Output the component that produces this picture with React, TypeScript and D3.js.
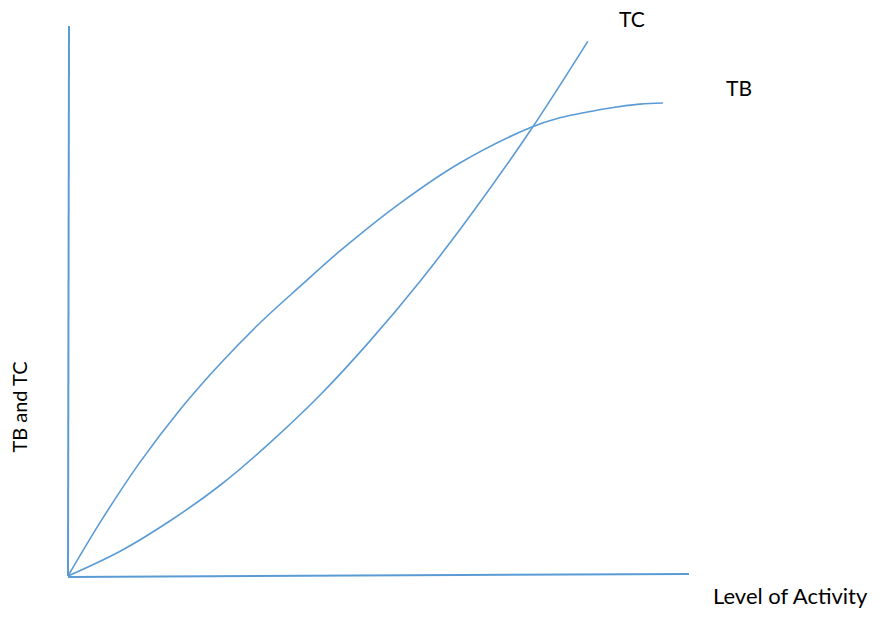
import * as d3 from 'd3';

const W = 885;
const H = 621;
const ORIGIN = { x: 68, y: 576 };
const X_END = 689;
const Y_END = 26;
const BLUE = '#5b9bd5';

// level of activity (0-100) vs value (0-100)
const tbActivity = [0, 5.2, 11.6, 18, 24.5, 30.9, 37.4, 43.8, 53.5, 63.1, 74.4, 79.2, 87.3, 92.1, 95.8];
const tbValue = [0, 9.8, 20.7, 30.2, 38.6, 46.0, 52.7, 59.1, 67.8, 75.1, 81.5, 83.3, 85.1, 85.8, 86.0];

const tcActivity = [0, 8.4, 16.4, 24.5, 32.5, 40.6, 48.6, 56.7, 64.7, 74.4, 83.7];
const tcValue = [0, 4.5, 10.0, 16.5, 24.2, 32.9, 42.7, 53.6, 65.4, 80.9, 97.2];

const FONT = 'Lato, "Open Sans", sans-serif';

export default function App() {
  const x = d3.scaleLinear().domain([0, 100]).range([ORIGIN.x, X_END]);
  const y = d3.scaleLinear().domain([0, 100]).range([ORIGIN.y, Y_END]);

  const line = d3.line<[number, number]>()
    .x(d => x(d[0]))
    .y(d => y(d[1]))
    .curve(d3.curveCatmullRom.alpha(0.5));

  const tb = tbActivity.map((a, i) => [a, tbValue[i]] as [number, number]);
  const tc = tcActivity.map((a, i) => [a, tcValue[i]] as [number, number]);

  return (
    <div style={{ position: 'absolute', left: 0, top: 0 }}>
      <svg width={W} height={H} style={{ display: 'block', background: '#fff' }}>
        {/* axes */}
        <line x1={x(0)} y1={y(0)} x2={x(0) + 1} y2={y(100)} stroke={BLUE} strokeWidth={2} />
        <line x1={x(0)} y1={y(0) + 1} x2={x(100)} y2={y(0) - 2} stroke={BLUE} strokeWidth={2} />

        <path d={line(tb) ?? ''} fill="none" stroke={BLUE} strokeWidth={1.6} />
        <path d={line(tc) ?? ''} fill="none" stroke={BLUE} strokeWidth={1.6} />

        <text x={619} y={27} fontFamily={FONT} fontSize={21} fill="#000">TC</text>
        <text x={726} y={96} fontFamily={FONT} fontSize={21} fill="#000">TB</text>
        <text x={713} y={604} fontFamily={FONT} fontSize={22} fill="#000">Level of Activity</text>
        <text
          transform="translate(27,407) rotate(-90)"
          textAnchor="middle"
          fontFamily={FONT}
          fontSize={20}
          fill="#000"
        >
          TB and TC
        </text>
      </svg>
    </div>
  );
}
